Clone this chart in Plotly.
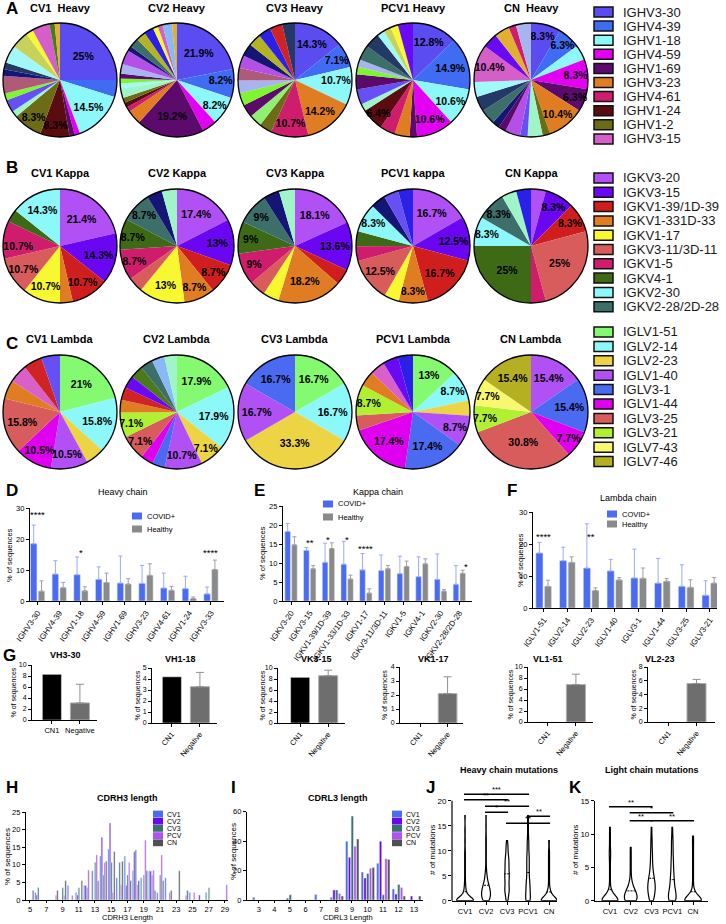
import plotly.graph_objects as go

W, H = 726, 924
FONT = "Arial, 'Liberation Sans', Helvetica, sans-serif"


def X(px):
    return px / W


def Y(py):
    return 1 - py / H


# ============================ DATA ============================
HEAVY_LEGEND = ["IGHV3-30", "IGHV4-39", "IGHV1-18", "IGHV4-59", "IGHV1-69",
                "IGHV3-23", "IGHV4-61", "IGHV1-24", "IGHV1-2", "IGHV3-15"]
KAPPA_LEGEND = ["IGKV3-20", "IGKV3-15", "IGKV1-39/1D-39", "IGKV1-331D-33", "IGKV1-17",
                "IGKV3-11/3D-11", "IGKV1-5", "IGKV4-1", "IGKV2-30", "IGKV2-28/2D-28"]
LAMBDA_LEGEND = ["IGLV1-51", "IGLV2-14", "IGLV2-23", "IGLV1-40", "IGLV3-1",
                 "IGLV1-44", "IGLV3-25", "IGLV3-21", "IGLV7-43", "IGLV7-46"]

# --- A: heavy chain pies (clockwise from 12 o'clock) ---
CV1_HEAVY_GENES = ["IGHV3-30", "IGHV4-39", "IGHV1-18", "IGHV4-59", "IGHV1-69", "IGHV1-24", "IGHV1-2",
                   "other 1", "other 2", "other 3", "other 4", "other 5", "other 6", "other 7",
                   "other 8", "other 9", "IGHV3-15", "other 10", "other 11"]
CV1_HEAVY_PCT = [25, 4.8, 14.5, 1.5, 1.5, 8.3, 8.3, 1.8, 3.5, 2, 5, 1.8, 2, 5, 5, 2, 5, 1.5, 1.5]

CV2_HEAVY_GENES = ["IGHV3-30", "IGHV4-39", "IGHV1-18", "IGHV4-59", "IGHV1-69", "IGHV3-23", "IGHV4-61",
                   "IGHV1-24", "IGHV1-2", "other 1", "other 7", "other 3", "other 20", "other 12",
                   "other 13", "other 5", "other 14", "other 18", "other 15", "other 9", "IGHV3-15",
                   "other 17", "other 11"]
CV2_HEAVY_PCT = [21.9, 8.2, 8.2, 4.1, 19.2, 4.1, 1.4, 1.4, 1.4, 2.7, 1.4, 1.4, 1.4, 2.7,
                 4.1, 1.4, 2.7, 2.7, 2.7, 1.4, 1.4, 2.7, 1.4]

CV3_HEAVY_GENES = ["IGHV3-30", "IGHV4-39", "IGHV1-18", "IGHV3-23", "IGHV4-61", "IGHV1-2", "other 21",
                   "IGHV1-69", "other 3", "other 12", "other 4", "other 13", "other 5", "other 18",
                   "other 15", "other 16", "other 6"]
CV3_HEAVY_PCT = [14.3, 7.1, 10.7, 14.2, 10.7, 3.6, 3.6, 3.6, 3.6, 3.6, 3.6, 3.6, 3.6, 3.6, 3.6, 3.6, 3.6]

PCV1_HEAVY_GENES = ["IGHV3-30", "IGHV4-39", "IGHV1-18", "IGHV4-59", "IGHV1-69", "IGHV3-23", "IGHV4-61",
                    "IGHV1-24", "other 1", "other 2", "other 20", "other 3", "other 12", "other 14",
                    "other 6", "other 7", "other 8", "other 9", "other 19"]
PCV1_HEAVY_PCT = [12.8, 14.9, 10.6, 10.6, 2.1, 4.3, 4.3, 6.4, 2.1, 4.3, 4.3, 2.1, 2.1, 4.3,
                  4.3, 2.1, 2.1, 2.1, 4.3]

CN_HEAVY_GENES = ["IGHV3-30", "IGHV4-39", "IGHV1-18", "IGHV4-59", "IGHV1-69", "IGHV3-23", "IGHV1-2",
                  "other 1", "other 2", "other 13", "other 20", "other 5", "other 14", "other 6",
                  "other 7", "IGHV3-15", "other 19", "other 11", "IGHV4-61", "other 12"]
CN_HEAVY_PCT = [8.3, 6.3, 4.2, 8.3, 6.3, 10.4, 2.1, 4.2, 2.1, 4.2, 2.1, 2.1, 4.2, 4.2,
                4.2, 10.4, 4.2, 4.2, 2.1, 4.2]

# --- B: kappa pies ---
CV1_KAPPA_GENES = ["IGKV3-20", "IGKV3-15", "IGKV1-39/1D-39", "IGKV1-331D-33", "IGKV1-17",
                   "IGKV3-11/3D-11", "IGKV1-5", "IGKV4-1", "IGKV2-30"]
CV1_KAPPA_PCT = [21.4, 14.3, 10.7, 3.6, 10.7, 10.7, 10.7, 3.6, 14.3]

CV2_KAPPA_GENES = ["IGKV3-20", "IGKV3-15", "IGKV1-39/1D-39", "IGKV1-331D-33", "IGKV1-17",
                   "IGKV3-11/3D-11", "IGKV1-5", "IGKV4-1", "IGKV2-28/2D-28", "other 5", "other 1"]
CV2_KAPPA_PCT = [17.4, 13, 8.7, 8.7, 13, 4.3, 8.7, 8.7, 8.7, 4.3, 4.3]

CV3_KAPPA_GENES = ["IGKV3-20", "IGKV3-15", "IGKV1-39/1D-39", "IGKV1-331D-33", "IGKV1-17",
                   "IGKV3-11/3D-11", "IGKV1-5", "IGKV4-1", "IGKV2-28/2D-28", "other 5", "other 1"]
CV3_KAPPA_PCT = [18.1, 13.6, 4.5, 18.2, 4.5, 4.5, 9, 9, 9, 4.5, 4.5]

PCV1_KAPPA_GENES = ["IGKV3-20", "IGKV3-15", "IGKV1-39/1D-39", "IGKV1-331D-33", "IGKV1-17",
                    "IGKV3-11/3D-11", "IGKV1-5", "IGKV4-1", "IGKV2-30", "other 5", "other 2", "other 15"]
PCV1_KAPPA_PCT = [16.7, 12.5, 16.7, 8.3, 4.2, 12.5, 4.2, 4.2, 8.3, 4.2, 4.2, 4.2]

CN_KAPPA_GENES = ["IGKV3-20", "IGKV3-15", "IGKV1-39/1D-39", "IGKV3-11/3D-11", "IGKV1-5",
                  "IGKV4-1", "IGKV2-30", "IGKV2-28/2D-28", "other 1", "other 15"]
CN_KAPPA_PCT = [4.2, 8.3, 8.3, 25, 4.2, 25, 8.3, 8.3, 4.2, 4.2]

# --- C: lambda pies ---
CV1_LAMBDA_GENES = ["IGLV1-51", "IGLV2-14", "IGLV2-23", "IGLV1-40", "IGLV1-44", "IGLV3-25",
                    "other 22", "other 23", "other 16", "other 2"]
CV1_LAMBDA_PCT = [21, 15.8, 5.3, 10.5, 10.5, 15.8, 5.3, 5.3, 5.3, 5.3]

CV2_LAMBDA_GENES = ["IGLV1-51", "IGLV2-14", "IGLV2-23", "IGLV1-40", "IGLV3-1", "IGLV1-44", "IGLV3-25",
                    "IGLV3-21", "other 22", "other 16", "other 19", "other 10", "other 14", "other 17",
                    "other 1"]
CV2_LAMBDA_PCT = [17.9, 17.9, 7.1, 10.7, 3.6, 3.6, 7.1, 7.1, 3.6, 3.6, 3.6, 3.6, 3.6, 3.6, 3.6]

CV3_LAMBDA_GENES = ["IGLV1-51", "IGLV2-14", "IGLV2-23", "IGLV1-40", "IGLV3-1"]
CV3_LAMBDA_PCT = [16.7, 16.7, 33.3, 16.7, 16.7]

PCV1_LAMBDA_GENES = ["IGLV1-51", "IGLV2-14", "IGLV2-23", "IGLV1-40", "IGLV3-1", "IGLV1-44",
                     "IGLV3-25", "IGLV3-21", "other 22", "other 23", "other 19", "other 15"]
PCV1_LAMBDA_PCT = [13, 8.7, 4.3, 8.7, 17.4, 17.4, 4.3, 8.7, 4.3, 4.3, 4.3, 4.3]

CN_LAMBDA_GENES = ["IGLV1-40", "IGLV3-1", "IGLV1-44", "IGLV3-25", "IGLV3-21", "IGLV7-43", "IGLV7-46"]
CN_LAMBDA_PCT = [15.4, 15.4, 7.7, 30.8, 7.7, 7.7, 15.4]

HEAVY_TITLES = ["CV1\u00a0 Heavy", "CV2 Heavy", "CV3 Heavy", "PCV1 Heavy", "CN\u00a0 Heavy"]
KAPPA_TITLES = ["CV1 Kappa", "CV2 Kappa", "CV3 Kappa", "PCV1 kappa", "CN Kappa"]
LAMBDA_TITLES = ["CV1 Lambda", "CV2 Lambda", "CV3 Lambda", "PCV1 Lambda", "CN Lambda"]

# --- D/E/F: V gene usage bars (mean, SD) ---
D_GENES = ["IGHV3-30", "IGHV4-39", "IGHV1-18", "IGHV4-59", "IGHV1-69", "IGHV3-23", "IGHV4-61", "IGHV1-24", "IGHV3-33"]
D_COVID = [18.5, 8.7, 8.5, 7.0, 5.8, 5.7, 4.2, 4.0, 2.3]
D_COVID_SD = [6.0, 4.3, 5.7, 4.0, 8.7, 5.8, 4.8, 4.0, 2.2]
D_HEALTHY = [3.2, 4.3, 3.3, 6.0, 5.5, 8.3, 3.5, 0.8, 10.2]
D_HEALTHY_SD = [3.3, 1.7, 1.3, 3.0, 1.7, 3.7, 1.2, 0.5, 3.0]
D_SIG = [(0, "****", 28.0), (2, "*", 15.8), (8, "****", 15.8)]

E_GENES = ["IGKV3-20", "IGKV3-15", "IGKV1-39/1D-39", "IGKV1-33/1D-33", "IGKV1-17",
           "IGKV3-11/3D-11", "IGKV1-5", "IGKV4-1", "IGKV2-30", "IGKV2-28/2D-28"]
E_COVID = [18.3, 13.3, 10.2, 9.7, 8.2, 8.0, 7.2, 6.4, 5.7, 4.4]
E_COVID_SD = [2.1, 0.8, 5.0, 6.0, 4.3, 4.1, 4.6, 5.2, 6.7, 4.9]
E_HEALTHY = [14.8, 8.5, 13.8, 5.8, 2.1, 8.5, 9.1, 9.8, 2.6, 7.3]
E_HEALTHY_SD = [2.1, 0.8, 1.5, 1.0, 1.1, 0.8, 1.4, 1.3, 0.4, 0.8]
E_SIG = [(1, "**", 15.5), (2, "*", 16.3), (3, "*", 16.3), (4, "****", 13.7), (9.37, "*", 9.0)]

F_GENES = ["IGLV1-51", "IGLV2-14", "IGLV2-23", "IGLV1-40", "IGLV3-1", "IGLV1-44", "IGLV3-25", "IGLV3-21"]
F_COVID = [17.2, 14.8, 12.5, 11.6, 9.4, 7.8, 6.8, 4.0]
F_COVID_SD = [3.3, 4.2, 13.8, 3.6, 9.0, 7.7, 6.7, 4.5]
F_HEALTHY = [6.8, 14.3, 5.5, 8.8, 9.3, 8.4, 6.5, 7.8]
F_HEALTHY_SD = [1.9, 1.7, 0.8, 0.7, 3.2, 0.8, 2.3, 1.7]
F_SIG = [(0, "****", 22.2), (2, "**", 22.2)]

# --- G: CN1 vs Negative ---
G_TITLES = ["VH3-30", "VH1-18", "VK3-15", "VK1-17", "VL1-51", "VL2-23"]
G_GROUPS = ["CN1", "Negative"]
G_CN1 = [8.3, 4.2, 8.3, 0, 0, 0]
G_NEG = [3.1, 3.3, 8.6, 2.1, 6.8, 5.6]
G_NEG_SD = [3.4, 1.3, 1.0, 1.2, 1.9, 0.6]

# --- H/I: CDR3 length distributions (% of sequences) ---
SERIES = ["CV1", "CV2", "CV3", "PCV", "CN"]
H_LEN = [5, 6, 7, 8, 9, 10, 11, 12, 13, 14, 15, 16, 17, 18, 19, 20, 21, 22, 23, 24, 25, 26, 27, 28, 29]
H_CV1 = [0, 2.1, 0, 0, 0, 4.1, 2.1, 4.1, 8.3, 12.5, 14.5, 6.3, 12.5, 8.3, 6.3, 8.3, 2.1, 6.3, 0, 0, 2.1, 0, 2.1, 0, 0]
H_CV2 = [0, 1.4, 0, 0, 0, 0, 1.4, 4.1, 0, 17.8, 21.9, 0, 4.1, 13.7, 0, 8.2, 0, 0, 0, 0, 0, 1.4, 0, 0, 0]
H_CV3 = [0, 3.5, 0, 0, 3.5, 0, 3.5, 3.5, 10.7, 7.1, 10.7, 10.7, 7.1, 14.2, 7.1, 7.1, 7.1, 0, 0, 0, 0, 0, 3.5, 0, 0]
H_PCV = [0, 0, 0, 1.3, 1.3, 1.3, 0, 8.5, 12.8, 10.6, 2.1, 4.3, 10.6, 4.3, 17.0, 8.5, 12.8, 2.1, 0, 1.3, 2.1, 0, 0, 0, 4.3]
H_CN = [2.7, 0, 0, 2.7, 5.5, 0, 5.5, 0, 5.5, 11.0, 13.8, 11.0, 5.5, 5.5, 8.3, 2.7, 5.5, 2.7, 8.3, 2.7, 0, 0, 0, 0, 0]

I_LEN = [3, 4, 5, 6, 7, 8, 9, 10, 11, 12, 13]
I_CV1 = [1.8, 0, 0, 0, 3.7, 1.8, 40, 19, 25, 7.5, 0]
I_CV2 = [0, 0, 1.2, 0, 0, 6.8, 29, 15, 40, 4, 2.7]
I_CV3 = [0, 0, 3.5, 0, 0, 6.8, 57, 18, 3.5, 10.5, 0]
I_PCV = [0, 0, 0, 0, 0, 4.5, 36.5, 21.5, 28, 8.5, 0]
I_CN = [0, 0, 0, 0, 0, 2.7, 41.5, 22, 27.5, 2.7, 2.7]

# --- J/K: mutations per sequence (estimated distributions) ---
MUT_GROUPS = ["CV1", "CV2", "CV3", "PCV1", "CN"]
J_CV1 = [0] * 40 + [1] * 6 + [2] * 3 + [3, 3, 4, 5, 6, 7, 8, 9, 10, 12, 14, 17]
J_CV2 = [0] * 12 + [1] * 18 + [2] * 16 + [3] * 12 + [4] * 6 + [5] * 4 + [6, 6, 7, 8, 9, 10, 11, 12, 13, 15, 17]
J_CV3 = [0] * 2 + [1] * 3 + [2] * 5 + [3] * 4 + [4] * 4 + [5] * 5 + [6] * 4 + [7] * 4 + [8] * 4 + [9] * 3 + [10] * 2 + [11] * 2 + [12]
J_PCV1 = [0] * 6 + [1] * 6 + [2] * 5 + [3] * 5 + [4] * 4 + [5] * 3 + [6] * 3 + [7] * 3 + [8] * 3 + [9] * 3 + [10] * 2 + [11] * 2 + [12] * 2 + [13, 14, 15, 16, 17]
J_CN = [0] * 25 + [1] * 6 + [2] * 3 + [3, 4, 5, 6, 7, 8, 9, 10, 12]
J_BRACKETS = [(0, 3, "***", 21.3), (0, 2, "**", 20.2), (1, 3, "**", 18.9), (1, 2, "*", 17.7), (3, 4, "**", 16.9), (2, 4, "**", 15.5)]

K_CV1 = [0] * 30 + [1] * 6 + [2, 3, 4, 5, 6, 7, 7, 8, 9, 10, 11]
K_CV2 = [0] * 15 + [1] * 14 + [2] * 6 + [3, 3, 4, 5, 6, 7, 8]
K_CV3 = [0] * 6 + [1] * 10 + [2] * 12 + [3] * 10 + [4] * 6 + [5] * 4 + [6] * 3 + [7] * 3 + [8] * 2 + [9] * 2 + [10, 11]
K_PCV1 = [0] * 10 + [1] * 10 + [2] * 6 + [3] * 5 + [4] * 4 + [5] * 3 + [6] * 3 + [7] * 2 + [8] * 2 + [9] * 2 + [10, 11]
K_CN = [0] * 30 + [1] * 5 + [2, 3, 4, 5, 6, 7, 8, 9, 9.7]
K_BRACKETS = [(0, 2, "**", 14.1), (1, 3, "*", 13.2), (1, 2, "**", 12.0), (2, 4, "**", 12.0)]

# ============================ STYLE ============================
GENE_COLORS = {
    "IGHV3-30": "#5b4cf2", "IGHV4-39": "#3f6cf2", "IGHV1-18": "#8cf8fa", "IGHV4-59": "#e400f2",
    "IGHV1-69": "#5c0a6c", "IGHV3-23": "#e07c22", "IGHV4-61": "#d01c6c", "IGHV1-24": "#5a0c10",
    "IGHV1-2": "#6c6c16", "IGHV3-15": "#d65ec8",
    "IGKV3-20": "#b050f5", "IGKV3-15": "#6a06f2", "IGKV1-39/1D-39": "#d01e1e", "IGKV1-331D-33": "#e07c22",
    "IGKV1-17": "#f8f830", "IGKV3-11/3D-11": "#d85c5c", "IGKV1-5": "#d01c6c", "IGKV4-1": "#3e6a16",
    "IGKV2-30": "#8cf8fa", "IGKV2-28/2D-28": "#3c6e6a",
    "IGLV1-51": "#84fa70", "IGLV2-14": "#8cf8fa", "IGLV2-23": "#ecd444", "IGLV1-40": "#b050f5",
    "IGLV3-1": "#4a6af2", "IGLV1-44": "#e000f0", "IGLV3-25": "#d85c5c", "IGLV3-21": "#b0f030",
    "IGLV7-43": "#f8f870", "IGLV7-46": "#b4b022",
}
OTHER_COLORS = {
    "other 1": "#a0f5c8", "other 2": "#6650f5", "other 3": "#7ff530", "other 4": "#b05a7a",
    "other 5": "#151575", "other 6": "#243a66", "other 7": "#a0f8f8", "other 8": "#c8d25a",
    "other 9": "#f8f830", "other 10": "#4a7a1a", "other 11": "#e0b030", "other 12": "#a8b4f0",
    "other 13": "#b450e8", "other 14": "#3c6e6a", "other 15": "#2a20e8", "other 16": "#d02424",
    "other 17": "#88b8f5", "other 18": "#b4b420", "other 19": "#6a0af5", "other 20": "#5a0a6a",
    "other 21": "#90f070", "other 22": "#e07c22", "other 23": "#d860c8",
}
BLUE = "#4a6cf4"
BLUE_ERR = "#9aaaf8"
GRAY = "#8a8a8a"
GRAY_ERR = "#a0a0a0"
SERIES_COLORS = ["#4a6cf4", "#6a06f2", "#3c6e6a", "#b050f5", "#505050"]


def color_of(label):
    return GENE_COLORS.get(label, OTHER_COLORS.get(label, "#cccccc"))


def pct_text(v):
    return "<b>%s%%</b>" % ("%g" % v) if v >= 6 else ""


fig = go.Figure()
shapes = []
ann = []


def text(x, y, s, size=9, bold=False, xanchor="center", yanchor="middle", angle=0, color="black"):
    ann.append(dict(x=X(x), y=Y(y), xref="paper", yref="paper",
                    text=("<b>%s</b>" % s) if bold else s, showarrow=False,
                    font=dict(family=FONT, size=size, color=color),
                    xanchor=xanchor, yanchor=yanchor, textangle=angle, borderpad=0, borderwidth=0))


# ============================ PIES ============================
R = 57
PIE_CX = [60, 177, 295, 413, 531]
PIE_ROWS = [
    (80, 8, HEAVY_TITLES, [(CV1_HEAVY_GENES, CV1_HEAVY_PCT), (CV2_HEAVY_GENES, CV2_HEAVY_PCT),
                           (CV3_HEAVY_GENES, CV3_HEAVY_PCT), (PCV1_HEAVY_GENES, PCV1_HEAVY_PCT),
                           (CN_HEAVY_GENES, CN_HEAVY_PCT)]),
    (246, 173, KAPPA_TITLES, [(CV1_KAPPA_GENES, CV1_KAPPA_PCT), (CV2_KAPPA_GENES, CV2_KAPPA_PCT),
                              (CV3_KAPPA_GENES, CV3_KAPPA_PCT), (PCV1_KAPPA_GENES, PCV1_KAPPA_PCT),
                              (CN_KAPPA_GENES, CN_KAPPA_PCT)]),
    (412, 339, LAMBDA_TITLES, [(CV1_LAMBDA_GENES, CV1_LAMBDA_PCT), (CV2_LAMBDA_GENES, CV2_LAMBDA_PCT),
                               (CV3_LAMBDA_GENES, CV3_LAMBDA_PCT), (PCV1_LAMBDA_GENES, PCV1_LAMBDA_PCT),
                               (CN_LAMBDA_GENES, CN_LAMBDA_PCT)]),
]
for cy, ty, titles, pies in PIE_ROWS:
    for j, (genes, pcts) in enumerate(pies):
        cx = PIE_CX[j]
        fig.add_trace(go.Pie(
            labels=genes, values=pcts, text=[pct_text(v) for v in pcts], textinfo="text",
            textposition="inside", insidetextorientation="horizontal", sort=False,
            direction="clockwise", rotation=0,
            marker=dict(colors=[color_of(g) for g in genes], line=dict(width=0)),
            textfont=dict(family=FONT, size=10.5, color="black"),
            domain=dict(x=[X(cx - R), X(cx + R)], y=[Y(cy + R), Y(cy - R)]),
            showlegend=False, hoverinfo="label+value"))
        shapes.append(dict(type="circle", xref="paper", yref="paper",
                           x0=X(cx - R), x1=X(cx + R), y0=Y(cy + R), y1=Y(cy - R),
                           line=dict(color="black", width=1.3)))
        text(cx, ty, titles[j], size=11, bold=True)

# pie legends
for names, y0, step in [(HEAVY_LEGEND, 12, 14.1), (KAPPA_LEGEND, 178, 14.3), (LAMBDA_LEGEND, 332, 14.4)]:
    for i, nm in enumerate(names):
        yy = y0 + i * step
        shapes.append(dict(type="rect", xref="paper", yref="paper", x0=X(594), x1=X(613),
                           y0=Y(yy + 5), y1=Y(yy - 5), fillcolor=GENE_COLORS[nm],
                           line=dict(color="#111111", width=1.5)))
        text(623, yy, nm, size=13, xanchor="left", color="#1a1a1a")

for letter, lx, ly in [("A", 12, 8), ("B", 12, 167), ("C", 12, 343), ("D", 12, 490), ("E", 259, 490),
                       ("F", 512, 490), ("G", 9, 655), ("H", 12, 787), ("I", 233, 787), ("J", 430, 787),
                       ("K", 575, 787)]:
    text(lx, ly, letter, size=17, bold=True)

# ============================ AXES ============================
layout_axes = {}


def add_axes(n, xdom, ydom, xrange, yrange, xkw=None, ykw=None):
    sfx = "" if n == 1 else str(n)
    base = dict(showline=True, linecolor="black", linewidth=1.2, ticks="outside", ticklen=3,
                tickwidth=1, tickcolor="black", showgrid=False, zeroline=False, automargin=False,
                tickfont=dict(family=FONT, size=7.5, color="black"), fixedrange=True)
    xa = dict(base, domain=[X(xdom[0]), X(xdom[1])], range=xrange, anchor="y" + sfx)
    ya = dict(base, domain=[Y(ydom[1]), Y(ydom[0])], range=yrange, anchor="x" + sfx)
    if xkw:
        xa.update(xkw)
    if ykw:
        ya.update(ykw)
    layout_axes["xaxis" + sfx] = xa
    layout_axes["yaxis" + sfx] = ya
    return "x" + sfx, "y" + sfx


def gene_bars(n, genes, cov, cov_sd, hea, hea_sd, sig, xdom, ydom, xrange, ymax, dtick, bw, gap):
    xa, ya = add_axes(n, xdom, ydom, xrange, [0, ymax],
                      xkw=dict(tickvals=list(range(len(genes))), ticktext=genes, tickangle=-55,
                               tickfont=dict(family=FONT, size=8, color="black")),
                      ykw=dict(tick0=0, dtick=dtick))
    idx = list(range(len(genes)))
    fig.add_trace(go.Bar(x=idx, y=cov, width=bw, offset=-bw - gap / 2, marker=dict(color=BLUE),
                         error_y=dict(type="data", symmetric=False, array=cov_sd, arrayminus=[0] * len(cov),
                                      color=BLUE_ERR, thickness=1, width=2),
                         xaxis=xa, yaxis=ya, showlegend=False, name="COVID+"))
    fig.add_trace(go.Bar(x=idx, y=hea, width=bw, offset=gap / 2, marker=dict(color=GRAY),
                         error_y=dict(type="data", symmetric=False, array=hea_sd, arrayminus=[0] * len(hea),
                                      color=GRAY_ERR, thickness=1, width=2),
                         xaxis=xa, yaxis=ya, showlegend=False, name="Healthy"))
    for xi, s, yv in sig:
        ann.append(dict(x=xi, y=yv, xref=xa, yref=ya, text=s, showarrow=False,
                        font=dict(family=FONT, size=9.5, color="black"), xanchor="center", yanchor="middle"))


gene_bars(1, D_GENES, D_COVID, D_COVID_SD, D_HEALTHY, D_HEALTHY_SD, D_SIG,
          (30, 224), (508, 601), [-0.35, 8.6], 30, 10, 0.3, 0.06)
gene_bars(2, E_GENES, E_COVID, E_COVID_SD, E_HEALTHY, E_HEALTHY_SD, E_SIG,
          (283, 471.5), (506, 601), [-0.43, 9.65], 25, 5, 0.3, 0.06)
gene_bars(3, F_GENES, F_COVID, F_COVID_SD, F_HEALTHY, F_HEALTHY_SD, F_SIG,
          (533, 717), (512, 608), [-0.45, 7.3], 30, 10, 0.3, 0.06)

text(123, 492, "Heavy chain", size=9)
text(378, 492, "Kappa chain", size=9)
text(628, 498, "Lambda chain", size=9)
text(9, 555, "% of sequences", size=7.5, angle=-90)
text(262, 553, "% of sequences", size=7.5, angle=-90)
text(520, 560, "% of sequences", size=7.5, angle=-90)

for (bx, ys) in [(132, (516, 529)), (323, (504, 517)), (607, (514, 524))]:
    for lab, col, yy in [("COVID+", BLUE, ys[0]), ("Healthy", GRAY, ys[1])]:
        shapes.append(dict(type="rect", xref="paper", yref="paper", x0=X(bx), x1=X(bx + 10),
                           y0=Y(yy + 3.5), y1=Y(yy - 3.5), fillcolor=col, line=dict(width=0)))
        text(bx + 15, yy, lab, size=7.5, xanchor="left")

# ============================ G ============================
G_POS = [  # x0, x1, ytop, ybot, xrange, ymax, dtick, title x, title y, tickangle
    (32, 97, 665, 720, [-0.71, 1.61], 10, 2, 65, 655, 0),
    (152, 217, 668, 723, [-0.71, 1.61], 5, 1, 180, 659, -50),
    (278, 345, 668, 723, [-0.79, 1.6], 10, 2, 316, 659, -50),
    (400, 463, 667, 723, [-0.73, 1.56], 4, 1, 433, 659, -50),
    (528, 593, 667, 722, [-0.71, 1.61], 10, 2, 548, 659, -50),
    (648, 715, 667, 722, [-0.73, 1.66], 8, 2, 660, 659, -50),
]
G_YT_X = [13, 137, 262, 385, 510, 633]
for k in range(6):
    x0, x1, yt, yb, xr, ym, dt, tx, tyy, ang = G_POS[k]
    xa, ya = add_axes(4 + k, (x0, x1), (yt, yb), xr, [0, ym],
                      xkw=dict(tickvals=[0, 1], ticktext=G_GROUPS, tickangle=ang, linewidth=1),
                      ykw=dict(tick0=0, dtick=dt, linewidth=1, tickfont=dict(family=FONT, size=7, color="black")))
    fig.add_trace(go.Bar(x=[0], y=[G_CN1[k]], width=0.68, offset=-0.34, marker=dict(color="black"),
                         xaxis=xa, yaxis=ya, showlegend=False, name="CN1"))
    fig.add_trace(go.Bar(x=[1], y=[G_NEG[k]], width=0.68, offset=-0.34,
                         marker=dict(color="#6e6e6e", line=dict(color="#b0b0b0", width=1)),
                         error_y=dict(type="data", symmetric=False, array=[G_NEG_SD[k]], arrayminus=[0],
                                      color="#909090", thickness=1, width=4),
                         xaxis=xa, yaxis=ya, showlegend=False, name="Negative"))
    text(tx, tyy, G_TITLES[k], size=9, bold=True)
    text(G_YT_X[k], (yt + yb) / 2, "% of sequences", size=7, angle=-90)

# ============================ H / I ============================
def length_bars(n, lens, series_vals, xdom, ydom, xrange, ymax, dtick, xtick0, bw):
    xa, ya = add_axes(n, xdom, ydom, xrange, [0, ymax],
                      xkw=dict(tick0=xtick0, dtick=2 if n == 10 else 1, tickangle=0, ticklen=2,
                               tickfont=dict(family=FONT, size=7.5, color="black")),
                      ykw=dict(tick0=0, dtick=dtick))
    for s, vals in enumerate(series_vals):
        fig.add_trace(go.Bar(x=lens, y=vals, width=bw, offset=-0.41 + s * 0.177,
                             marker=dict(color=SERIES_COLORS[s]), xaxis=xa, yaxis=ya,
                             showlegend=False, name=SERIES[s]))


length_bars(10, H_LEN, [H_CV1, H_CV2, H_CV3, H_PCV, H_CN], (26, 228), (812, 900),
            [4.51, 29.37], 25, 5, 5, 0.17)
length_bars(11, I_LEN, [I_CV1, I_CV2, I_CV3, I_PCV, I_CN], (247, 423), (811.7, 900),
            [2.23, 13.58], 60, 20, 3, 0.15)
text(127, 798, "CDRH3 length", size=9, bold=True)
text(338, 798, "CDRL3 length", size=9, bold=True)
text(127, 917.5, "CDRH3 Length", size=7.5)
text(348, 917.5, "CDRL3 Length", size=7.5)
text(7, 857, "% of sequences", size=8, angle=-90)
text(233, 852, "% of sequences", size=8, angle=-90)
for bx in (153, 392):
    for s, nm in enumerate(SERIES):
        yy = 814 + s * 7.2
        shapes.append(dict(type="rect", xref="paper", yref="paper", x0=X(bx), x1=X(bx + 10),
                           y0=Y(yy + 3.4), y1=Y(yy - 3.4), fillcolor=SERIES_COLORS[s], line=dict(width=0)))
        text(bx + 14, yy, nm, size=7, xanchor="left")

# ============================ J / K ============================
def violins(n, groups_vals, brackets, xdom, ydom, xrange, yrange, ticks, show_yline=True):
    xa, ya = add_axes(n, xdom, ydom, xrange, yrange,
                      xkw=dict(tickvals=list(range(5)), ticktext=MUT_GROUPS, tickangle=0,
                               tickfont=dict(family=FONT, size=7.5, color="black")),
                      ykw=dict(tickvals=ticks, tickfont=dict(family=FONT, size=8, color="black"),
                               showline=show_yline))
    xs, ys = [], []
    for i, vals in enumerate(groups_vals):
        xs += [i] * len(vals)
        ys += vals
    fig.add_trace(go.Violin(x=xs, y=ys, xaxis=xa, yaxis=ya, line=dict(color="black", width=1.2),
                            fillcolor="white", points=False, spanmode="hard", bandwidth=0.7,
                            scalemode="width", width=0.8, meanline=dict(visible=True, color="black", width=1),
                            box=dict(visible=False), showlegend=False, hoverinfo="skip"))
    for a, b, s, yv in brackets:
        shapes.append(dict(type="line", xref=xa, yref=ya, x0=a - 0.05, x1=b + 0.05, y0=yv, y1=yv,
                           line=dict(color="black", width=1.5)))
        ann.append(dict(x=(a + b) / 2, y=yv, xref=xa, yref=ya, text=s, showarrow=False,
                        font=dict(family=FONT, size=7.5, color="black"), xanchor="center", yanchor="bottom",
                        yshift=-1, borderpad=0))


violins(12, [J_CV1, J_CV2, J_CV3, J_PCV1, J_CN], J_BRACKETS, (452, 557), (790.7, 900.7),
        [-0.62, 4.38], [0, 22], [0, 5, 10, 15, 20], show_yline=False)
shapes.append(dict(type="line", xref="paper", yref="paper", x0=X(452), x1=X(452), y0=Y(900.7), y1=Y(800.7),
                   line=dict(color="black", width=1.2)))
violins(13, [K_CV1, K_CV2, K_CV3, K_PCV1, K_CN], K_BRACKETS, (595, 708), (800.7, 900.7),
        [-0.72, 4.72], [0, 15], [0, 5, 10, 15])
text(509, 770, "Heavy chain mutations", size=9, bold=True)
text(652, 770, "Light chain mutations", size=9, bold=True)
text(432, 850, "# of mutations", size=8, angle=-90)
text(575, 850, "# of mutations", size=8, angle=-90)

fig.update_layout(
    width=W, height=H, margin=dict(l=0, r=0, t=0, b=0, pad=0, autoexpand=False),
    paper_bgcolor="white", plot_bgcolor="white",
    barmode="overlay", violinmode="overlay",
    uniformtext=dict(minsize=10.5, mode="show"),
    font=dict(family=FONT, color="black"),
    shapes=shapes, annotations=ann, showlegend=False,
    **layout_axes,
)
# remove the browser's default 8px body margin so the 726x924 figure fills the window exactly
fig.write_html("out.html", config={"displayModeBar": False},
               post_script="document.body.style.margin='0px';document.body.style.overflow='hidden';")
